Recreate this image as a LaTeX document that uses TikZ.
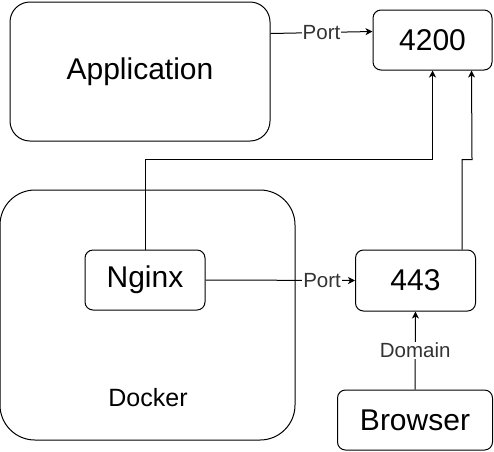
\documentclass[tikz,border=0pt]{standalone}
\usepackage{fontspec}
\setmainfont{Liberation Sans}
\usetikzlibrary{positioning,arrows.meta,calc}
\definecolor{edgecol}{HTML}{000000}
\definecolor{labelcol}{HTML}{333333}

\begin{document}
\begin{tikzpicture}[x=1pt,y=-1pt,line width=1pt,
  box/.style={draw=edgecol,rounded corners=8pt,inner sep=0pt,
              font=\fontsize{30}{32}\selectfont},
  arr/.style={draw=edgecol,-{Stealth[length=7pt,width=7pt,inset=2pt]}},
  lbl/.style={fill=white,inner sep=1pt,text=labelcol,
              font=\fontsize{20.5}{22}\selectfont}]

\useasboundingbox (0,0) rectangle (494,451);

\node[box,rounded corners=20pt,minimum width=260pt,minimum height=139pt]
      (app) at (140,71.5) {Application};
\node[box,minimum width=119pt,minimum height=60pt] (n4200) at (432.5,40) {4200};

\node[box,rounded corners=35pt,minimum width=295pt,minimum height=250pt]
      (docker) at (147.5,315) {};
\node[font=\fontsize{25}{27}\selectfont] (dockerlbl) at (148,398) {Docker};
\node[box,minimum width=120pt,minimum height=60pt] (nginx) at (145,280) {Nginx};

\node[box,minimum width=120pt,minimum height=61pt] (n443) at (415.5,280.5) {443};
\node[box,minimum width=155pt,minimum height=60pt] (browser) at (415,420) {Browser};

% connections
\draw[arr] ($(app.north east)+(0,32)$) -- node[lbl] {Port}
      ($(n4200.north west)+(0,22)$);
\draw[arr] (nginx.north) -- ++(0,-90) -| (n4200.south);
\draw[arr] ($(n443.north east)+(-14,0)$) -- ++(0,-90) -- ++(10,0)
      -- ($(n4200.south east)+(-21,0)$);
\draw[arr] (nginx.east) -- node[lbl,pos=0.78] {Port} (n443.west);
\draw[arr] (browser.north) -- node[lbl] {Domain} (n443.south);

\end{tikzpicture}
\end{document}
